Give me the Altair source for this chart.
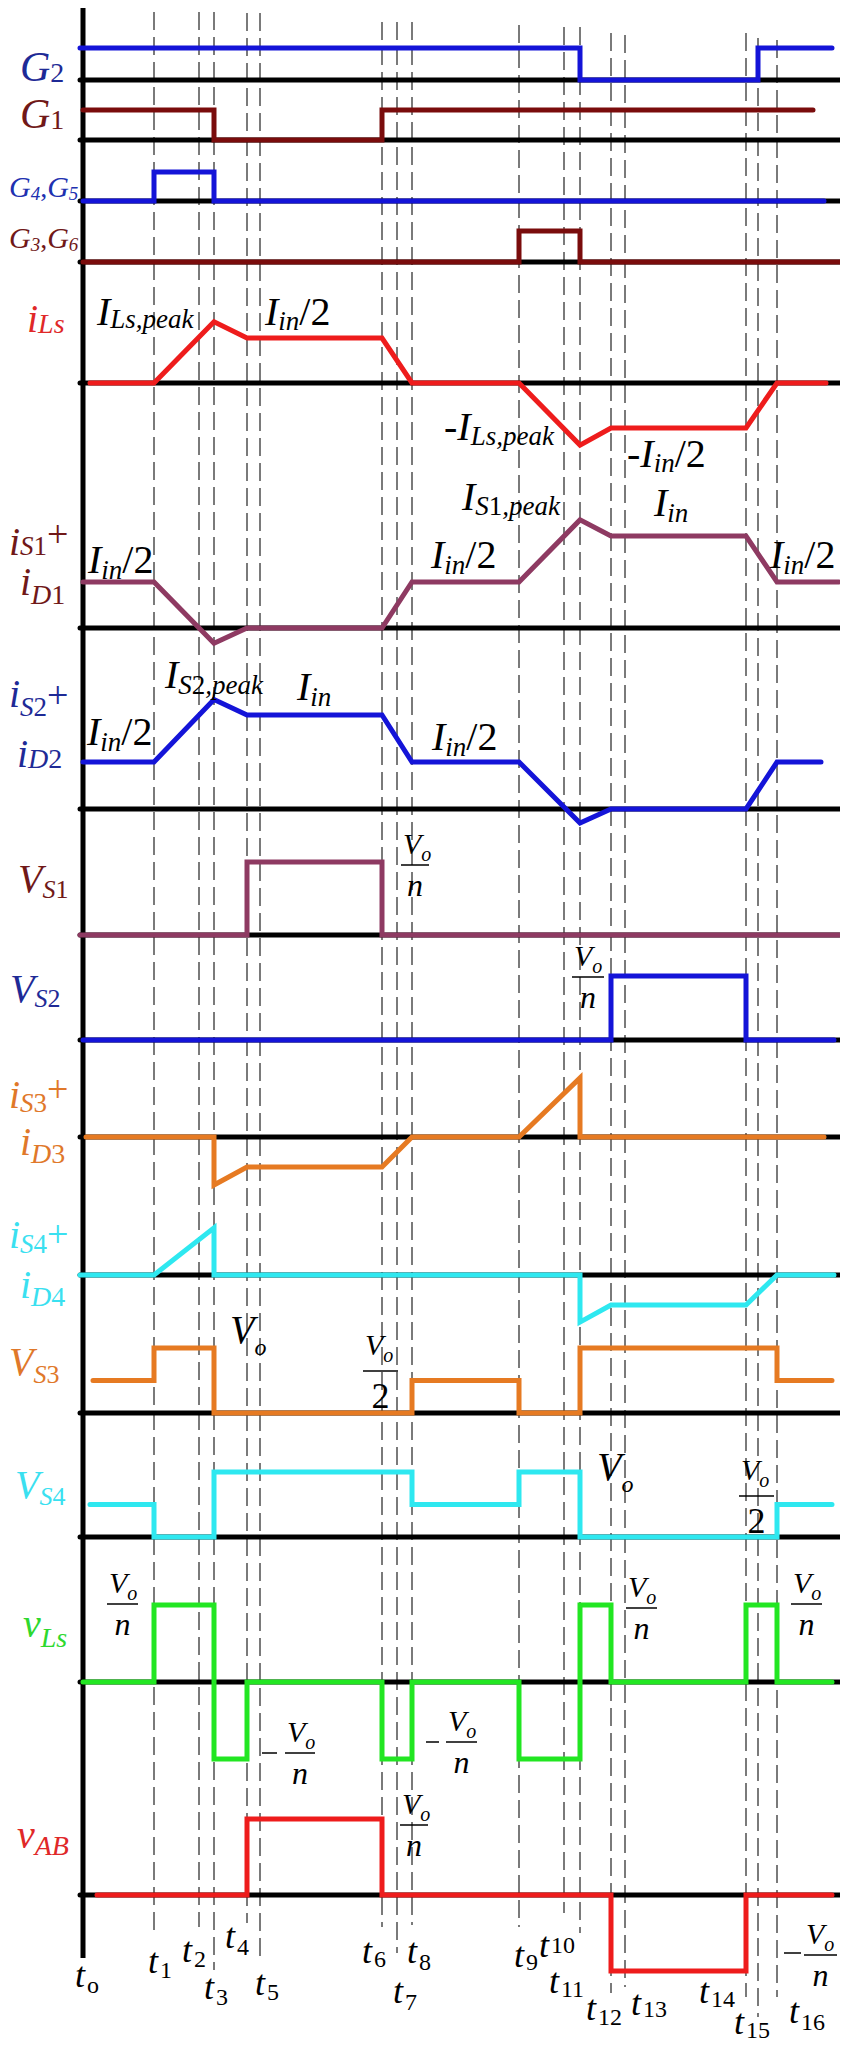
import altair as alt
import pandas as pd

# ---------------- data (time units, t0 = 0) ----------------
t_names = ["1", "2", "3", "4", "5", "6", "7", "8", "9", "10", "11", "12", "13", "14", "15", "16"]
t_vals = [71, 116, 131, 164, 177, 299, 314, 329, 436, 481, 497, 528, 542, 663, 675, 694]
(t1, t2, t3, t4, t5, t6, t7, t8, t9, t10, t11, t12, t13, t14, t15, t16) = t_vals

# waveforms: breakpoints (time) and normalised levels
G2_t = [-3, t11, t11, t15, t15, 749];  G2_v = [1, 1, 0, 0, 1, 1]
G1_t = [0, t3, t3, t6, t6, 730];       G1_v = [1, 1, 0, 0, 1, 1]
G45_t = [0, t1, t1, t3, t3, 741];      G45_v = [0, 0, 1, 1, 0, 0]
G36_t = [0, t9, t9, t11, t11, 760];    G36_v = [0, 0, 1, 1, 0, 0]
iLs_t = [7, t1, t3, t4, t6, t8, t9, t11, t12, t14, t16, 743]
iLs_v = [0, 0, 1.36, 1, 1, 0, 0, -1.38, -1, -1, 0, 0]
iS1_t = [0, t1, t3, t4, t6, t8, t9, t11, t12, t14, t16, 756]
iS1_v = [1, 1, -0.33, 0, 0, 1, 1, 2.35, 2, 2, 1, 1]
iS2_t = [0, t1, t3, t4, t6, t8, t9, t11, t12, t14, t16, 738]
iS2_v = [1, 1, 2.33, 2, 2, 1, 1, -0.3, 0, 0, 1, 1]
VS1_t = [-3, t4, t4, t6, t6, 756];     VS1_v = [0, 0, 1, 1, 0, 0]
VS2_t = [0, t12, t12, t14, t14, 751];  VS2_v = [0, 0, 1, 1, 0, 0]
iS3_t = [3, t3, t3, t4, t6, t8, t9, t11, t11, 741]
iS3_v = [0, 0, -1.6, -1, -1, 0, 0, 1.97, 0, 0]
iS4_t = [-3, t1, t3, t3, t11, t11, t12, t14, t16, 751]
iS4_v = [0, 0, 1.57, 0, 0, -1.57, -1, -1, 0, 0]
VS3_t = [10, t1, t1, t3, t3, t8, t8, t9, t9, t11, t11, t16, t16, 749]
VS3_v = [.5, .5, 1, 1, 0, 0, .5, .5, 0, 0, 1, 1, .5, .5]
VS4_t = [7, t1, t1, t3, t3, t8, t8, t9, t9, t11, t11, t16, t16, 749]
VS4_v = [.5, .5, 0, 0, 1, 1, .5, .5, 1, 1, 0, 0, .5, .5]
vLs_t = [0, t1, t1, t3, t3, t4, t4, t6, t6, t8, t8, t9, t9, t11, t11, t12, t12, t14, t14, t16, t16, 749]
vLs_v = [0, 0, 1, 1, -1, -1, 0, 0, -1, -1, 0, 0, -1, -1, 1, 1, 0, 0, 1, 1, 0, 0]
vAB_t = [14, t4, t4, t6, t6, t12, t12, t14, t14, 749]
vAB_v = [0, 0, 1, 1, 0, 0, -1, -1, 0, 0]

# ---------------- layout / style ----------------
X0 = 83                     # page x of t0
BLUE, MAROON, RED, MAUVE = "#1414d8", "#7a0c0c", "#ee1c1c", "#8e3a62"
ORANGE, CYAN, GREEN = "#e67a22", "#2ee8f0", "#22e622"
panels = [  # name, t, v, baseline(page y), px per unit, colour
    ("G2", G2_t, G2_v, 80, 32, BLUE), ("G1", G1_t, G1_v, 140, 30, MAROON),
    ("G45", G45_t, G45_v, 201, 29, BLUE), ("G36", G36_t, G36_v, 262, 31, MAROON),
    ("iLs", iLs_t, iLs_v, 383, 45, RED), ("iS1", iS1_t, iS1_v, 628, 46, MAUVE),
    ("iS2", iS2_t, iS2_v, 809, 47, BLUE), ("VS1", VS1_t, VS1_v, 935, 73, MAUVE),
    ("VS2", VS2_t, VS2_v, 1040, 64, BLUE), ("iS3", iS3_t, iS3_v, 1137, 30, ORANGE),
    ("iS4", iS4_t, iS4_v, 1275, 30, CYAN), ("VS3", VS3_t, VS3_v, 1413, 65, ORANGE),
    ("VS4", VS4_t, VS4_v, 1537, 65, CYAN), ("vLs", vLs_t, vLs_v, 1682, 77, GREEN),
    ("vAB", vAB_t, vAB_v, 1895, 76, RED),
]
dash_top = [12, 12, 12, 13, 13, 22, 22, 22, 25, 27, 27, 33, 35, 33, 38, 40]
dash_bot = [1937, 1927, 1970, 1923, 1957, 1927, 1953, 1925, 1927, 1913, 1933, 1993, 1987, 1997, 2017, 1997]

rows = []
for name, ts, vs, base, amp, col in panels:
    for i, (t, v) in enumerate(zip(ts, vs)):
        rows.append(dict(sig=name, o=i, x=t, y=base - amp * v, color=col))
sig_df = pd.DataFrame(rows)
base_df = pd.DataFrame(dict(x=[-3] * len(panels), x2=[760] * len(panels), y=[p[3] for p in panels]))
dash_df = pd.DataFrame(dict(x=t_vals, y=dash_top, y2=dash_bot))
axis_df = pd.DataFrame(dict(x=[0], y=[4], y2=[1958]))

# ---------------- text ----------------
WI = {'G': .722, 'I': .333, 'L': .556, 'S': .5, 'V': .611, 'D': .722, 'A': .611, 'B': .611,
      'i': .278, 'n': .5, 's': .389, 'p': .5, 'e': .444, 'a': .5, 'k': .444, 'o': .5, 't': .278,
      'v': .444, ',': .25}
WR = {'/': .278, '+': .564, ',': .25, '-': .333, ' ': .25, 'o': .5, '2': .5}


def rw(text, size, italic):
    tb = WI if italic else WR
    return sum(tb.get(c, .5) for c in text) * size


txt = []


def label(x, y, color, runs):
    for r in runs:
        text, size, italic, dy = r[:4]
        dx = r[4] if len(r) > 4 else 0
        x += dx
        txt.append(dict(text=text, x=x - X0, y=y + dy, size=size, color=color,
                        it=italic))
        x += rw(text, size, italic)


IT, RM = True, False
NAVY, DRED, LBLUE = "#1e2a96", "#701818", "#2030b0"
LOR, LCY, LGR, LRED = "#e0782a", "#3ae0f0", "#2ed82e", "#e02828"

# signal names
label(20, 81, NAVY, [("G", 42, IT, 0), ("2", 28, RM, 1)])
label(20, 128, DRED, [("G", 42, IT, 0), ("1", 28, RM, 1)])
label(9, 197, LBLUE, [("G", 30, IT, 0), ("4", 19, IT, 3), (",", 28, RM, 0), ("G", 30, IT, 0), ("5", 19, IT, 3)])
label(9, 248, DRED, [("G", 30, IT, 0), ("3", 19, IT, 3), (",", 28, RM, 0), ("G", 30, IT, 0), ("6", 19, IT, 3)])
label(27, 332, LRED, [("i", 40, IT, 0), ("Ls", 28, IT, 1)])
label(9, 555, DRED, [("i", 40, IT, 0), ("S", 27, IT, 0), ("1", 27, RM, 0), (" +", 38, RM, -8)])
label(20, 595, DRED, [("i", 40, IT, 0), ("D", 28, IT, 9), ("1", 28, RM, 9)])
label(9, 707, NAVY, [("i", 40, IT, 0), ("S", 27, IT, 9), ("2", 27, RM, 9), (" +", 38, RM, 1)])
label(17, 767, NAVY, [("i", 40, IT, 0), ("D", 28, IT, 1), ("2", 28, RM, 1)])
label(18, 892, DRED, [("V", 40, IT, 0), ("S", 26, IT, 6), ("1", 26, RM, 6)])
label(10, 1002, NAVY, [("V", 40, IT, 0), ("S", 26, IT, 5), ("2", 26, RM, 5)])
label(9, 1108, LOR, [("i", 40, IT, 0), ("S", 27, IT, 4), ("3", 27, RM, 4), (" +", 38, RM, -6)])
label(20, 1155, LOR, [("i", 40, IT, 0), ("D", 28, IT, 8), ("3", 28, RM, 8)])
label(9, 1248, LCY, [("i", 40, IT, 0), ("S", 27, IT, 5), ("4", 27, RM, 5), (" +", 38, RM, -1)])
label(20, 1298, LCY, [("i", 40, IT, 0), ("D", 28, IT, 8), ("4", 28, RM, 8)])
label(9, 1375, LOR, [("V", 40, IT, 0), ("S", 26, IT, 8), ("3", 26, RM, 8)])
label(15, 1498, LCY, [("V", 40, IT, 0), ("S", 26, IT, 7), ("4", 26, RM, 7)])
label(23, 1637, LGR, [("v", 40, IT, 0), ("Ls", 28, IT, 10)])
label(17, 1848, LRED, [("v", 40, IT, 0), ("AB", 28, IT, 7)])

# annotations
K = "black"
label(97, 325, K, [("I", 40, IT, 0), ("Ls,peak", 27, IT, 3)])
label(265, 325, K, [("I", 40, IT, 0), ("in", 27, IT, 5), ("/2", 40, RM, 0)])
label(444, 440, K, [("-", 40, RM, 0), ("I", 40, IT, 0), ("Ls,peak", 27, IT, 5)])
label(627, 467, K, [("-", 40, RM, 0), ("I", 40, IT, 0), ("in", 27, IT, 5), ("/2", 40, RM, 0)])
label(462, 510, K, [("I", 40, IT, 0), ("S", 27, IT, 5), ("1", 27, RM, 5), (",peak", 27, IT, 5)])
label(654, 516, K, [("I", 40, IT, 0), ("in", 27, IT, 6)])
for (xx, yy) in [(88, 573), (431, 568), (770, 568), (87, 745), (432, 750)]:
    label(xx, yy, K, [("I", 40, IT, 0), ("in", 27, IT, 6), ("/2", 40, RM, 0)])
label(165, 688, K, [("I", 40, IT, 0), ("S", 27, IT, 6), ("2", 27, RM, 6), (",peak", 27, IT, 6)])
label(297, 700, K, [("I", 40, IT, 0), ("in", 27, IT, 6)])
label(230, 1343, K, [("V", 40, IT, 0), ("o", 24, IT, 12)])
label(597, 1480, K, [("V", 40, IT, 0), ("o", 24, IT, 12)])

frac_lines = []


def frac(xl, yl, w, den, vy=None, dy=None):
    if den == "n":
        vy = -11 if vy is None else vy
        dy = 31 if dy is None else dy
        ds = 32
    else:
        vy = -16 if vy is None else vy
        dy = 37 if dy is None else dy
        ds = 36
    label(xl + 2, yl + vy, K, [("V", 30, IT, 0), ("o", 20, IT, 7)])
    frac_lines.append(dict(x=xl - X0, x2=xl + w - X0, y=yl))
    dwid = rw(den, ds, den == "n")
    label(xl + w / 2 - dwid / 2, yl + dy, K, [(den, ds, den == "n", 0)])


frac(401, 865, 28, "n")
frac(572, 977, 32, "n")
frac(363, 1371, 35, "2")
frac(739, 1496, 35, "2")
frac(107, 1604, 31, "n")
frac(626, 1608, 31, "n")
frac(791, 1604, 31, "n")
frac(285, 1753, 30, "n")
frac(446, 1742, 31, "n")
frac(400, 1825, 28, "n")
frac(804, 1955, 33, "n")
for (a, b, yy) in [(262, 277, 1753), (426, 439, 1742), (784, 801, 1953)]:
    frac_lines.append(dict(x=a - X0, x2=b - X0, y=yy))
frac_df = pd.DataFrame(frac_lines)

# time labels
tl = [("o", 75, 1987, 6), ("1", 148, 1973, 5), ("2", 182, 1962, 5), ("3", 204, 1999, 6),
      ("4", 225, 1948, 7), ("5", 255, 1995, 5), ("6", 362, 1963, 4), ("7", 393, 2003, 7),
      ("8", 407, 1963, 7), ("9", 514, 1967, 3), ("10", 539, 1957, -4), ("11", 549, 1993, 4),
      ("12", 586, 2020, 5), ("13", 631, 2015, 2), ("14", 699, 2003, 4), ("15", 734, 2034, 4),
      ("16", 789, 2023, 7)]
for s, xx, yy, sd in tl:
    label(xx, yy, K, [("t", 36, IT, 0), (s, 24, RM, sd, 2)])

txt_df = pd.DataFrame(txt)

# ---------------- chart ----------------
XS = alt.Scale(domain=[8 - X0, 840 - X0])
YS = alt.Scale(domain=[2042, 8])
X = lambda f="x": alt.X(f"{f}:Q", scale=XS, axis=None)
Y = lambda f="y": alt.Y(f"{f}:Q", scale=YS, axis=None)

dash = alt.Chart(dash_df).mark_rule(color="#7a7a7a", strokeWidth=2, strokeDash=[18, 7]).encode(
    x=X(), y=Y(), y2="y2:Q")
axis_line = alt.Chart(axis_df).mark_rule(color="black", strokeWidth=5).encode(x=X(), y=Y(), y2="y2:Q")
baselines = alt.Chart(base_df).mark_rule(color="black", strokeWidth=5, strokeCap="round").encode(
    x=X(), x2="x2:Q", y=Y())
sigs = alt.Chart(sig_df).mark_line(strokeWidth=5, strokeCap="round", strokeJoin="miter").encode(
    x=X(), y=Y(), detail="sig:N", order="o:Q", color=alt.Color("color:N", scale=None))
fl = alt.Chart(frac_df).mark_rule(color="black", strokeWidth=1.5).encode(x=X(), x2="x2:Q", y=Y())


def text_layer(italic):
    d = txt_df[txt_df.it == italic]
    return alt.Chart(d).mark_text(font="Liberation Serif", fontStyle="italic" if italic else "normal",
                                  align="left", baseline="alphabetic").encode(
        x=X(), y=Y(), text="text:N", size=alt.Size("size:Q", scale=None),
        color=alt.Color("color:N", scale=None))


chart = alt.layer(dash, baselines, axis_line, sigs, fl, text_layer(True), text_layer(False)).properties(
    width=832, height=2034, padding=0, autosize=alt.AutoSizeParams(type="none"),
    background="white").configure_view(stroke=None)

chart.save("out.html", embed_options={"renderer": "svg", "actions": False})
